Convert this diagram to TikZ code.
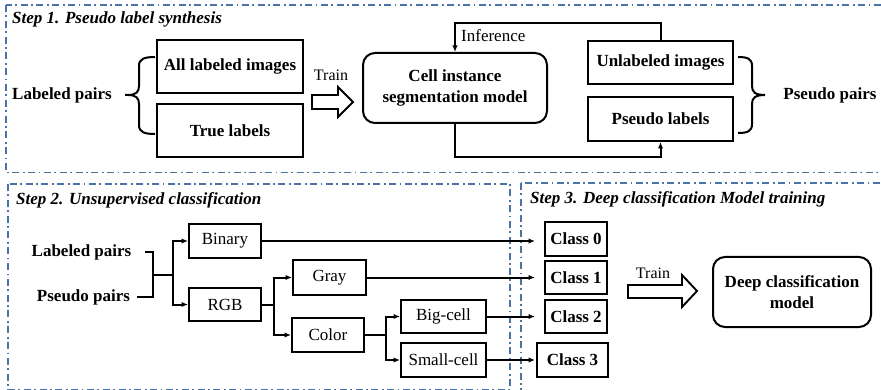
\documentclass[tikz,border=0pt]{standalone}
\usepackage{fontspec}
\setmainfont{Liberation Serif}
\usetikzlibrary{arrows.meta}
\definecolor{stepblue}{RGB}{74,116,166}
\begin{document}
\begin{tikzpicture}[x=1pt,y=-1pt,
  rg/.style={font=\fontsize{17}{20}\selectfont, inner sep=0pt},
  bd/.style={font=\fontsize{17}{20.5}\selectfont\bfseries, inner sep=0pt, align=center},
  ttl/.style={font=\fontsize{17}{20}\selectfont\bfseries\itshape, inner sep=0pt, anchor=west},
  box/.style={draw, line width=2pt, inner sep=0pt, align=center},
  rbox/.style={box, rounded corners=12pt},
  ln/.style={line width=2pt},
  arr/.style={line width=2pt, -{Latex[length=6.5pt,width=5.5pt]}},
  blk/.style={line width=1.9pt, fill=white, line join=miter},
  frame/.style={draw=stepblue, line width=1.6pt, dash pattern=on 7pt off 3.5pt on 1.8pt off 3.5pt},
  brc/.style={line width=2pt}
]
\useasboundingbox (0,0) rectangle (881,390);

% ---------- frames ----------
\draw[frame] (6,5) rectangle (900,172.5);
\draw[frame] (8,184) rectangle (510,389.5);
\draw[frame] (521,183) rectangle (900,410);

\node[ttl] (t1) at (12,19) {Step 1. Pseudo label synthesis};
\node[ttl] (t2) at (16,200) {Step 2. Unsupervised classification};
\node[ttl] (t3) at (530,199) {Step 3. Deep classification Model training};

% ---------- Step 1 ----------
\node[bd] (lp1) at (62,95) {Labeled pairs};
\node[box, bd, minimum width=146pt, minimum height=53pt] (allimg) at (230,66.5) {All labeled images};
\node[box, bd, minimum width=146pt, minimum height=53pt] (truel) at (230,130.5) {True labels};
\node[rbox, bd, minimum width=184pt, minimum height=70pt] (model) at (455,88) {Cell instance\\segmentation model};
\node[box, bd, minimum width=145pt, minimum height=43pt] (unl) at (660.5,62.5) {Unlabeled images};
\node[box, bd, minimum width=145pt, minimum height=44pt] (psl) at (660.5,119) {Pseudo labels};
\node[bd] (pp1) at (830,95) {Pseudo pairs};

% left brace
\draw[brc] (155,57) .. controls (144,57) and (139,59) .. (139,66) -- (139,86)
  .. controls (139,92) and (136,95) .. (128,95) -- (125,95)
  (128,95) .. controls (136,95) and (139,98) .. (139,104) -- (139,125)
  .. controls (139,132) and (144,134) .. (155,134);
% right brace
\draw[brc] (738,57) .. controls (748,57) and (752,59) .. (752,66) -- (752,86)
  .. controls (752,92) and (755,95) .. (765,95)
  .. controls (755,95) and (752,98) .. (752,104) -- (752,124)
  .. controls (752,131) and (748,133) .. (738,133);

% train arrow 1
\draw[blk] (312,95) -- (338,95) -- (338,87) -- (353,102) -- (338,117) -- (338,109) -- (312,109) -- cycle;
\node[rg, font=\fontsize{16}{18}\selectfont] (train1) at (331,75) {Train};

% inference loop
\coordinate (inftop) at (455,23);
\coordinate (bottomy) at (455,157);
\draw[arr] (unl.north) |- (inftop) -- (model.north);
\node[rg, anchor=west] (inf) at (461,36) {Inference};
\draw[arr] (model.south) -- (bottomy) -| (psl.south);

% ---------- Step 2 ----------
\node[bd] (lp2) at (81.5,252) {Labeled pairs};
\node[bd] (pp2) at (83.5,297) {Pseudo pairs};
\coordinate (j1) at (153,275);
\coordinate (j2) at (173,275);
\node[box, rg, minimum width=72pt, minimum height=34pt] (bin) at (225,241) {Binary};
\node[box, rg, minimum width=72pt, minimum height=33pt] (rgb) at (225,304.5) {RGB};
\node[box, rg, minimum width=73pt, minimum height=34pt] (gray) at (329.5,277.5) {Gray};
\node[box, rg, minimum width=72pt, minimum height=34pt] (color) at (328,335) {Color};
\node[box, rg, minimum width=85pt, minimum height=33pt] (big) at (443.5,316.5) {Big-cell};
\node[box, rg, minimum width=85pt, minimum height=34pt] (small) at (443.5,360) {Small-cell};
\coordinate (j3) at (274,304.5);
\coordinate (j4) at (386,335);
\coordinate (tipx) at (535,0);

\draw[ln] ([xshift=13pt]lp2.east) -| (j1) |- ([xshift=7pt]pp2.east);
\draw[ln] (j1) -- (j2);
\draw[arr] (j2) |- (bin.west);
\draw[arr] (j2) |- (rgb.west);
\draw[ln] (rgb.east) -- (j3);
\draw[arr] (j3) |- (gray.west);
\draw[arr] (j3) |- (color.west);
\draw[ln] (color.east) -- (j4);
\draw[arr] (j4) |- (big.west);
\draw[arr] (j4) |- (small.west);

% ---------- Step 3 ----------
\node[box, bd, minimum width=62pt, minimum height=34pt] (c0) at (576,239) {Class 0};
\node[box, bd, minimum width=62pt, minimum height=33pt] (c1) at (576,277.5) {Class 1};
\node[box, bd, minimum width=62pt, minimum height=33pt] (c2) at (576,316.5) {Class 2};
\node[box, bd, minimum width=71pt, minimum height=34pt] (c3) at (572.5,360) {Class 3};

\draw[arr] (bin.east) -- (bin.east -| tipx);
\draw[arr] (gray.east) -- (gray.east -| tipx);
\draw[arr] (big.east) -- (big.east -| tipx);
\draw[arr] (small.east) -- (small.east -| tipx);

\draw[blk] (628,285) -- (682,285) -- (682,275) -- (697,291) -- (682,307) -- (682,298) -- (628,298) -- cycle;
\node[rg, font=\fontsize{16}{18}\selectfont] (train2) at (653,273) {Train};

\node[rbox, bd, minimum width=158pt, minimum height=70pt] (deep) at (792,292) {Deep classification\\model};
\end{tikzpicture}
\end{document}
